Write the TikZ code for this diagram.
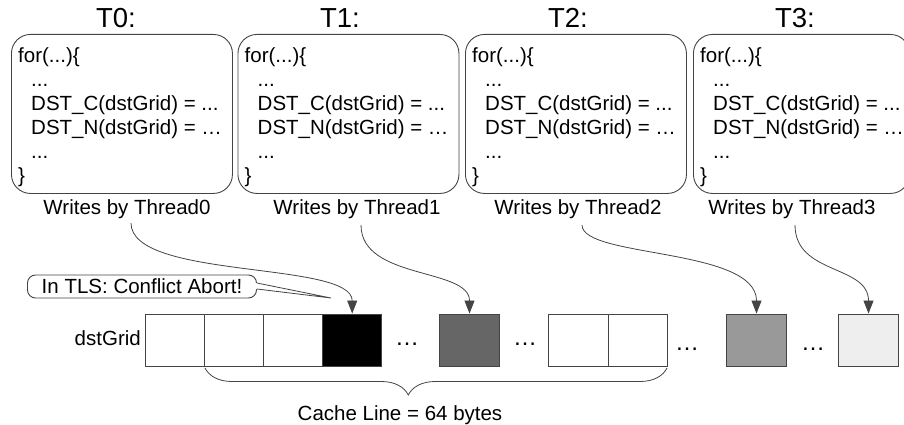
\documentclass[tikz,border=0pt]{standalone}
\usepackage{fontspec}
\setmainfont{Liberation Sans}
\usetikzlibrary{arrows.meta,decorations.pathreplacing}
\definecolor{linec}{HTML}{444444}
\definecolor{cdark}{HTML}{666666}
\definecolor{cmid}{HTML}{999999}
\definecolor{clight}{HTML}{EEEEEE}
\begin{document}
\begin{tikzpicture}[x=1pt,y=-1pt,
  txt/.style={font=\fontsize{20.5}{24}\selectfont, inner sep=0pt, anchor=base},
  codeline/.style={font=\fontsize{20.5}{24}\selectfont, inner sep=0pt, anchor=base west},
  ttl/.style={font=\fontsize{27.5}{32}\selectfont, inner sep=0pt, anchor=base},
  codebox/.style={draw=linec, line width=0.9pt, rounded corners=19pt, minimum width=221pt, minimum height=159pt, inner sep=0pt},
  cell/.style={draw=linec, line width=0.9pt, minimum width=59.2pt, minimum height=52pt, inner sep=0pt},
  arr/.style={draw=linec, line width=0.8pt, -{Triangle[width=10pt,length=13pt]}},
  dots/.style={font=\fontsize{24}{28}\selectfont, inner sep=0pt, anchor=base}
]
\useasboundingbox (0,0) rectangle (904,425);
\clip (0,0) rectangle (904,425);

% thread boxes
\foreach \i/\bx/\tx/\wx/\bw in {0/11/116/127/221, 1/237.5/340/357/221, 2/465/568/578/221, 3/693/795/792/216} {
  \node[codebox, anchor=north west, minimum width=\bw pt] (b\i) at (\bx,34) {};
  \node[ttl] (t\i) at (\tx,28) {T\i:};
  \node[codeline] (c\i-1) at (\bx+7,63) {for(...)\{};
  \node[codeline] (c\i-2) at (\bx+20,86.8) {...};
  \node[codeline] (c\i-3) at (\bx+20,110.6) {DST\_C(dstGrid) = ...};
  \node[codeline] (c\i-4) at (\bx+20,134.4) {DST\_N(dstGrid) = …};
  \node[codeline] (c\i-5) at (\bx+20,158) {...};
  \node[codeline] (c\i-6) at (\bx+7,182) {\}};
  \node[txt] (w\i) at (\wx,214) {Writes by Thread\i};
}

% dstGrid cells
\node[txt, anchor=base east] (lbl) at (141,345) {dstGrid};
\node[cell] (k1) at (174.6,340) {};
\node[cell] (k2) at (233.8,340) {};
\node[cell] (k3) at (293,340) {};
\node[cell, fill=black] (k4) at (352.2,340) {};
\node[cell, fill=cdark] (k5) at (469.5,340) {};
\node[cell] (k6) at (578.5,340) {};
\node[cell] (k7) at (637.7,340) {};
\node[cell, fill=cmid] (k8) at (756.5,340) {};
\node[cell, fill=clight] (k9) at (868.5,340) {};
\node[dots] (d1) at (407,345) {…};
\node[dots] (d2) at (525,345) {…};
\node[dots] (d3) at (687,350) {…};
\node[dots] (d4) at (813,350) {…};

% arrows
\coordinate (s0) at (131,223);
\coordinate (s1) at (361,225);
\coordinate (s2) at (582,225);
\coordinate (s3) at (795,225);
\draw[arr] (s0) .. controls +(0,57) and +(0,-53) .. (k4.north);
\draw[arr] (s1) .. controls +(0,55) and +(0,-46) .. (k5.north);
\draw[arr] (s2) .. controls +(0,33) and +(0,-66) .. (k8.north);
\draw[arr] (s3) .. controls +(0,50) and +(0,-49) .. (k9.north);

% callout
\node[draw=linec, line width=0.9pt, rounded corners=8pt, minimum width=229pt, minimum height=23pt, inner sep=0pt,
      font=\fontsize{20.5}{24}\selectfont] (tls) at (142,286.5) {In TLS: Conflict Abort!};
\coordinate (tip) at (331,298);
\fill[white] ([xshift=-1.2pt,yshift=3.5pt]tls.east) -- (tip) -- ([xshift=-1.2pt,yshift=-2.5pt]tls.east) -- cycle;
\draw[linec, line width=0.8pt] ([yshift=3.5pt]tls.east) -- (tip) -- ([yshift=-2.5pt]tls.east);

% brace
\coordinate (bl) at (205,368);
\coordinate (br) at (667,368);
\draw[linec, line width=0.8pt, decorate, decoration={brace, mirror, amplitude=27pt, aspect=0.44}] (bl) -- (br);
\node[txt] (cache) at (400,420) {Cache Line = 64 bytes};
\end{tikzpicture}
\end{document}
